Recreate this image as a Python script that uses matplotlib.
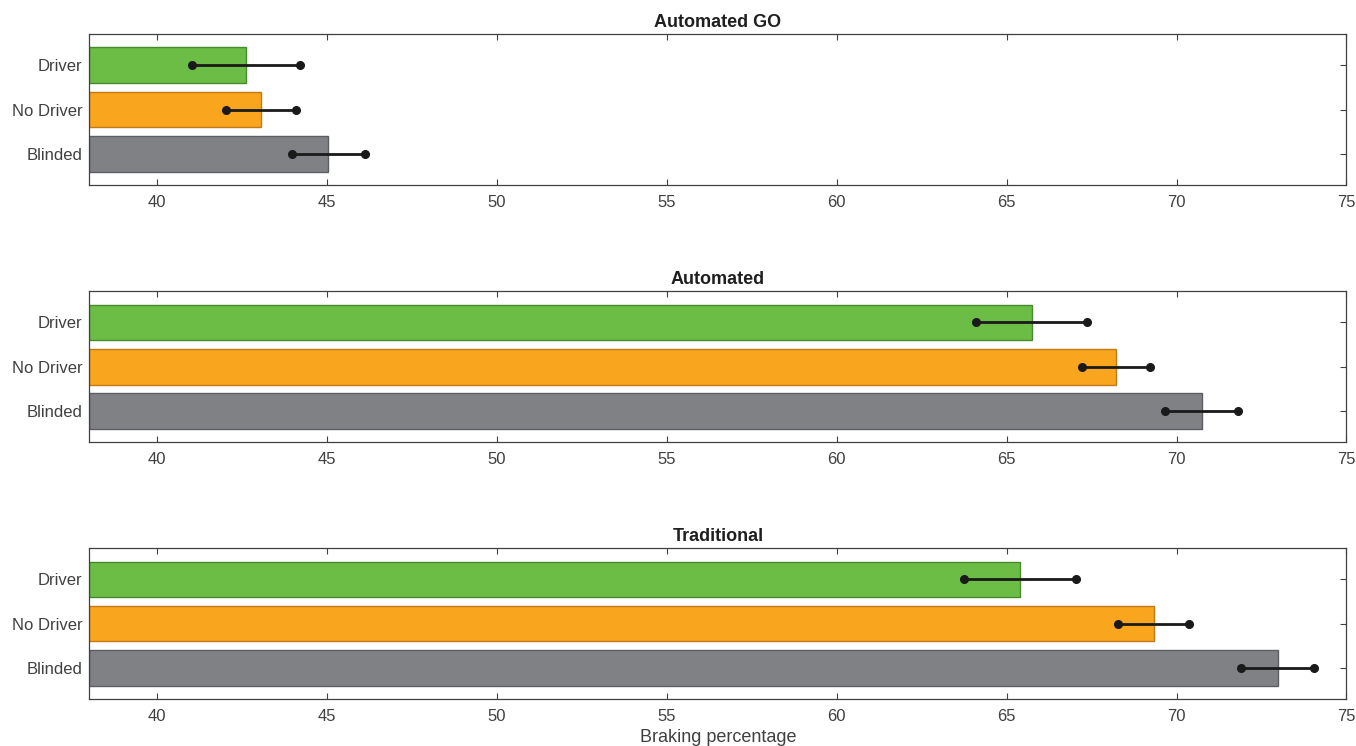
import numpy as np
import matplotlib
matplotlib.use("Agg")
import matplotlib.pyplot as plt

plt.rcParams['font.family'] = ['Liberation Sans', 'DejaVu Sans']

# Data
panel_titles = ['Automated GO', 'Automated', 'Traditional']
groups = ['Driver', 'No Driver', 'Blinded']

# bar values (Driver, No Driver, Blinded) for each panel
bars_go = [42.62, 43.05, 45.03]
bars_auto = [65.75, 68.22, 70.74]
bars_trad = [65.39, 69.33, 72.98]

# error bar low / high ends
err_lo_go = [41.03, 42.01, 43.95]
err_hi_go = [44.21, 44.08, 46.12]
err_lo_auto = [64.11, 67.22, 69.65]
err_hi_auto = [67.36, 69.22, 71.81]
err_lo_trad = [63.75, 68.28, 71.91]
err_hi_trad = [67.03, 70.38, 74.06]

xticks = [40, 45, 50, 55, 60, 65, 70, 75]

fill_cols = ['#6bbd45', '#f9a51e', '#808184']
edge_cols = ['#4a8a2e', '#c27a16', '#5d5e61']
axis_col = '#404040'

fig = plt.figure(figsize=(13.56, 7.46), dpi=100)

panel_pos = [
    [0.0659, 0.7516, 0.927, 0.2028],
    [0.0659, 0.4071, 0.927, 0.2024],
    [0.0659, 0.0630, 0.927, 0.2020],
]
all_bars = [bars_go, bars_auto, bars_trad]
all_lo = [err_lo_go, err_lo_auto, err_lo_trad]
all_hi = [err_hi_go, err_hi_auto, err_hi_trad]

ypos = np.array([3, 2, 1])  # Driver on top, Blinded at bottom

for i in range(3):
    ax = fig.add_axes(panel_pos[i])
    ax.barh(ypos, np.array(all_bars[i]) - 38, left=38, height=0.8,
            color=fill_cols, edgecolor=edge_cols, linewidth=1.0, zorder=2)
    for j in range(3):
        ax.plot([all_lo[i][j], all_hi[i][j]], [ypos[j], ypos[j]],
                color='#1a1a1a', linewidth=2.0, marker='o', markersize=5.5,
                zorder=3)
    ax.set_xlim(38, 75)
    ax.set_ylim(0.3, 3.7)
    ax.set_xticks(xticks)
    ax.set_yticks(ypos)
    ax.set_yticklabels(groups)
    ax.tick_params(direction='in', length=4.5, width=0.8, colors=axis_col,
                   labelsize=12, top=True, right=True, pad=7)
    ax.tick_params(axis='y', pad=5)
    for s in ax.spines.values():
        s.set_color(axis_col)
        s.set_linewidth(0.9)
    ax.set_title(panel_titles[i], fontsize=13, fontweight='bold',
                 color='#1f1f1f', pad=5)
    if i == 2:
        ax.set_xlabel('Braking percentage', fontsize=13, color=axis_col,
                      labelpad=4)

fig.savefig('out.png', dpi=100)
